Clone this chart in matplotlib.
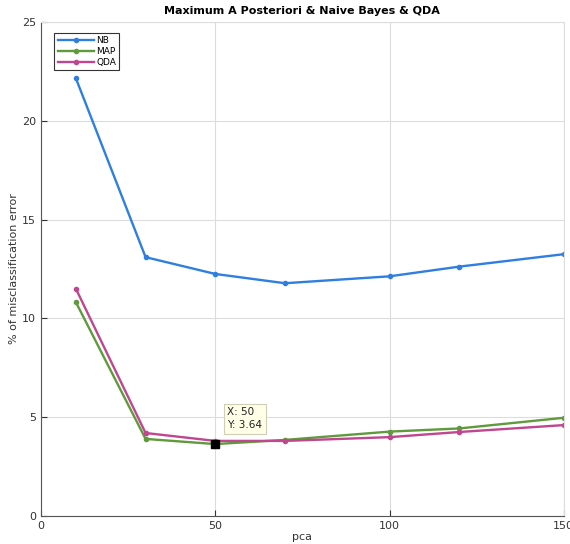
import matplotlib
matplotlib.use('Agg')
import matplotlib.pyplot as plt

pca = [10, 30, 50, 70, 100, 120, 150]
nb = [22.15, 13.1, 12.25, 11.78, 12.13, 12.62, 13.25]
map_err = [10.82, 3.9, 3.64, 3.85, 4.27, 4.43, 4.97]
qda = [11.5, 4.2, 3.8, 3.8, 3.99, 4.25, 4.6]

fig = plt.figure(figsize=(5.7, 5.44), dpi=100)
ax = fig.add_axes([0.072, 0.0515, 0.917, 0.908])

ax.plot(pca, nb, color='#2f7fe0', marker='o', markersize=3, lw=1.7, label='NB')
ax.plot(pca, map_err, color='#5f9a3c', marker='o', markersize=3, lw=1.7, label='MAP')
ax.plot(pca, qda, color='#c04690', marker='o', markersize=3, lw=1.7, label='QDA')

# data tip
ax.plot([50], [3.64], marker='s', color='black', markersize=6, zorder=5)
ax.text(53.5, 4.35, 'X: 50\nY: 3.64', fontsize=7.5, color='#222222', va='bottom', ha='left',
        linespacing=1.35,
        bbox=dict(boxstyle='square,pad=0.35', fc='#ffffe8', ec='#cfcfb8', lw=0.8), zorder=6)

ax.set_xlim(0, 150)
ax.set_ylim(0, 25)
ax.set_xticks([0, 50, 100, 150])
ax.set_yticks([0, 5, 10, 15, 20, 25])
ax.grid(True, color='#dcdcdc', lw=0.8)
ax.set_axisbelow(True)
ax.tick_params(direction='in', labelsize=8, colors='#333333', length=4)
for s in ['left', 'bottom']:
    ax.spines[s].set_color('#555555')
for s in ['top', 'right']:
    ax.spines[s].set_color('#dddddd')

ax.set_xlabel('pca', fontsize=8, color='#333333', labelpad=1)
ax.set_ylabel('% of misclassification error', fontsize=8, color='#333333', labelpad=2)
ax.set_title('Maximum A Posteriori & Naive Bayes & QDA', fontsize=8, fontweight='bold', pad=6)

leg = ax.legend(loc='upper left', fontsize=6.5, fancybox=False, edgecolor='black',
                handlelength=4, borderpad=0.35, labelspacing=0.2, handletextpad=0.3,
                bbox_to_anchor=(0.017, 0.987))
leg.get_frame().set_linewidth(0.8)

fig.savefig('out.png', dpi=100)
